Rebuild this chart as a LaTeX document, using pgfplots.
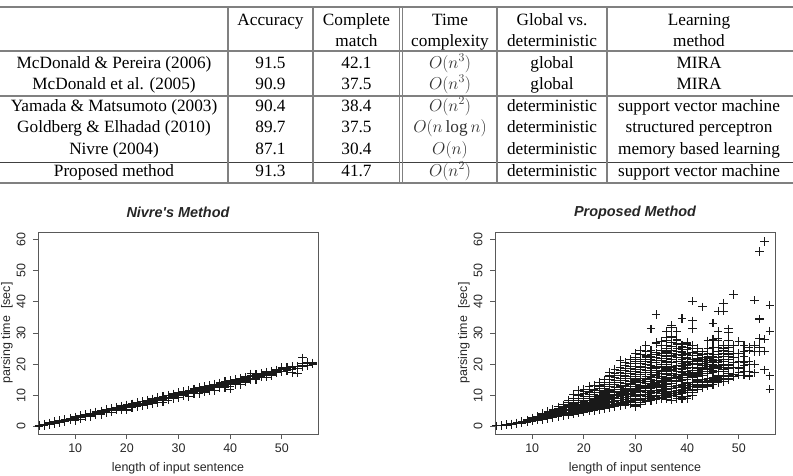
\documentclass[border=0pt]{standalone}
\usepackage{pgfplots}
\pgfplotsset{compat=1.18}
\usepackage{fontspec}
\setmainfont{Liberation Serif}
\setsansfont{Liberation Sans}
\definecolor{rulegray}{gray}{0.5}
\definecolor{rtext}{gray}{0.15}
\newcommand\tf{\fontsize{17.3}{21}\selectfont}
\newcommand\rf{\sffamily\fontsize{12.5}{14}\selectfont}
\pgfplotsset{rplot/.style={
  scale only axis, width=280bp, height=202bp,
  xmin=2.8, xmax=57, ymin=-2.4, ymax=62.4,
  xtick={10,20,30,40,50}, ytick={0,10,20,30,40,50,60},
  xtick pos=bottom, ytick pos=left,
  tick align=outside, major tick length=5bp,
  axis line style={draw=black!65, line width=0.9bp},
  every tick/.style={draw=black!65, line width=0.8bp},
  /pgf/number format/assume math mode=true,
  ticklabel style={font=\rf, text=rtext},
  yticklabel style={rotate=90, anchor=south},
  yticklabel shift=4bp, xticklabel shift=1bp,
  xlabel={length of input sentence},
  ylabel={parsing time\ \ [sec]},
  label style={font=\rf, text=rtext, inner sep=0pt},
  xlabel style={at={(axis description cs:0.5,-0.168)}, anchor=center},
  ylabel style={at={(axis description cs:-0.111,0.5)}, anchor=center},
  title style={at={(axis description cs:0.5,1.066)}, anchor=center, inner sep=0pt,
    font=\sffamily\bfseries\itshape\fontsize{14.5}{16}\selectfont, text=rtext},
  clip=false,
}}
\pgfplotsset{rmark/.style={only marks, mark=+, mark size=4.2bp, black!90, mark options={line width=1.05bp}}}
\begin{document}
\begin{tikzpicture}
\path[use as bounding box] (0,0) rectangle (793bp,-476bp);
% ---------- table ----------
\begin{scope}[line width=1.1bp]
\draw[rulegray] (0,-7bp) -- (793bp,-7bp);
\draw[rulegray] (0,-51bp) -- (793bp,-51bp);
\draw[rulegray] (0,-96bp) -- (793bp,-96bp);
\draw[black!75, line width=0.9bp] (0,-162bp) -- (793bp,-162bp);
\draw[rulegray] (0,-183bp) -- (793bp,-183bp);
\foreach \xx in {228,313,399.5,402.5,497,607} {\draw[rulegray] (\xx bp,-7bp) -- (\xx bp,-183bp);}
\end{scope}
\begin{scope}[every node/.style={anchor=base, font=\tf, inner sep=0pt}]
\node at (270.5bp,-25bp) {Accuracy};
\node at (356.5bp,-25bp) {Complete};
\node at (356.5bp,-46bp) {match};
\node at (450bp,-25bp) {Time};
\node at (450bp,-46bp) {complexity};
\node at (552bp,-25bp) {Global vs.};
\node at (552bp,-46bp) {deterministic};
\node at (699bp,-25bp) {Learning};
\node at (699bp,-46bp) {method};
% rows
\node at (114bp,-68bp) {McDonald \& Pereira (2006)};
\node at (270.5bp,-68bp) {91.5};
\node at (356.5bp,-68bp) {42.1};
\node[text=black!80] at (450bp,-68bp) {$O(n^3)$};
\node at (552bp,-68bp) {global};
\node at (699bp,-68bp) {MIRA};
\node at (114bp,-89bp) {McDonald et al. (2005)};
\node at (270.5bp,-89bp) {90.9};
\node at (356.5bp,-89bp) {37.5};
\node[text=black!80] at (450bp,-89bp) {$O(n^3)$};
\node at (552bp,-89bp) {global};
\node at (699bp,-89bp) {MIRA};
\node at (114bp,-111bp) {Yamada \& Matsumoto (2003)};
\node at (270.5bp,-111bp) {90.4};
\node at (356.5bp,-111bp) {38.4};
\node[text=black!80] at (450bp,-111bp) {$O(n^2)$};
\node at (552bp,-111bp) {deterministic};
\node at (699bp,-111bp) {support vector machine};
\node at (114bp,-132bp) {Goldberg \& Elhadad (2010)};
\node at (270.5bp,-132bp) {89.7};
\node at (356.5bp,-132bp) {37.5};
\node[text=black!80] at (450bp,-132bp) {$O(n\log n)$};
\node at (552bp,-132bp) {deterministic};
\node at (699bp,-132bp) {structured perceptron};
\node at (114bp,-154bp) {Nivre (2004)};
\node at (270.5bp,-154bp) {87.1};
\node at (356.5bp,-154bp) {30.4};
\node[text=black!80] at (450bp,-154bp) {$O(n)$};
\node at (552bp,-154bp) {deterministic};
\node at (699bp,-154bp) {memory based learning};
\node at (114bp,-176bp) {Proposed method};
\node at (270.5bp,-176bp) {91.3};
\node at (356.5bp,-176bp) {41.7};
\node[text=black!80] at (450bp,-176bp) {$O(n^2)$};
\node at (552bp,-176bp) {deterministic};
\node at (699bp,-176bp) {support vector machine};
\end{scope}
% ---------- left plot ----------
\begin{axis}[rplot, at={(38bp,-434bp)}, anchor=south west, title={Nivre\textquotesingle s Method}]
\addplot[rmark] coordinates {
(3,0.2)(3,0.3)(4,0.5)(4,0.6)(4,0.4)(5,0.9)(5,0.7)(6,1.2)(6,1.0)(6,1.3)(7,1.6)(7,1.4)(8,2.0)(8,1.8)(8,2.1)(9,2.4)(9,2.2)(9,2.5)(10,2.8)(10,2.6)(10,2.3)(10,2.9)(11,3.2)(11,3.0)(11,3.3)(12,3.6)(12,3.3)(12,3.7)(12,3.1)(13,4.0)(13,3.8)(13,4.1)(13,3.5)(14,4.4)(14,4.1)(14,4.5)(14,3.9)(15,4.8)(15,4.5)(15,4.9)(15,4.2)(16,5.1)(16,4.9)(16,5.3)(16,4.5)(17,5.5)(17,5.3)(17,5.7)(17,5.0)(18,5.9)(18,5.6)(18,6.1)(18,5.3)(19,6.3)(19,6.0)(19,6.5)(19,5.7)(20,6.7)(20,6.4)(20,6.9)(20,6.1)(20,5.3)(21,7.1)(21,6.8)(21,7.3)(21,6.4)(22,7.5)(22,7.2)(22,7.7)(22,6.8)(22,6.3)(23,7.9)(23,7.5)(23,8.1)(23,7.2)(24,8.2)(24,7.9)(24,8.5)(24,7.5)(24,7.0)(25,8.6)(25,8.3)(25,8.9)(25,7.9)(25,7.3)(26,9.0)(26,8.7)(26,9.3)(26,8.3)(26,7.6)(27,9.4)(27,9.1)(27,9.7)(27,8.7)(27,7.8)(28,9.8)(28,9.4)(28,10.1)(28,9.0)(28,8.5)(29,10.2)(29,9.8)(29,10.5)(29,9.4)(30,10.5)(30,10.2)(30,10.9)(30,9.8)(30,9.2)(31,10.9)(31,10.6)(31,11.3)(31,10.2)(31,9.9)(32,11.3)(32,11.0)(32,11.7)(32,10.5)(32,9.6)(33,11.7)(33,11.4)(33,12.1)(33,10.9)(34,12.1)(34,11.8)(34,12.5)(34,11.3)(34,10.5)(35,12.5)(35,12.1)(35,12.9)(35,11.6)(35,11.0)(36,12.8)(36,12.5)(36,13.2)(36,12.0)(37,13.2)(37,12.9)(37,13.6)(37,12.4)(37,11.6)(38,13.6)(38,13.3)(38,14.0)(38,12.8)(39,14.0)(39,13.6)(39,14.4)(39,13.1)(39,12.5)(40,14.4)(40,14.0)(40,14.8)(40,13.5)(40,12.0)(41,14.8)(41,14.4)(41,15.2)(41,13.9)(42,15.1)(42,14.8)(42,15.5)(42,14.2)(42,13.5)(43,15.5)(43,15.1)(43,15.9)(43,14.6)(44,15.9)(44,15.5)(44,16.3)(44,15.0)(44,16.9)(45,16.3)(45,15.9)(45,16.7)(45,15.3)(46,16.7)(46,16.2)(46,17.0)(46,15.8)(47,17.0)(47,16.6)(47,17.5)(48,17.4)(48,17.0)(48,16.3)(48,17.8)(49,17.8)(49,17.3)(49,18.2)(50,18.2)(50,17.7)(50,18.6)(50,19.0)(51,18.5)(51,18.1)(51,19.0)(52,18.9)(52,17.2)(52,19.3)(53,19.3)(53,17.1)(53,18.5)(54,19.7)(54,22.0)(54,20.2)(55,20.1)(55,20.5)(56,20.4)(56,20.0)
};
\addplot[rmark] coordinates {
(3,0.1)(3,0.45)(4,0.3)(4,0.8)(5,0.5)(5,1.2)(6,0.9)(6,1.6)(7,1.2)(7,1.9)(8,1.6)(8,2.3)(9,2.0)(9,2.7)(10,2.4)(10,3.1)(10,1.9)(11,2.8)(11,3.5)(11,2.4)(12,3.2)(12,3.9)(13,3.5)(13,4.3)(13,3.1)(14,3.9)(14,4.7)(15,4.3)(15,5.0)(15,3.8)(16,4.7)(16,5.4)(17,5.0)(17,5.8)(17,4.6)(18,5.4)(18,6.2)(19,5.8)(19,6.6)(19,5.3)(20,6.2)(20,7.0)(21,6.6)(21,7.3)(21,6.0)(22,6.9)(22,7.7)(23,7.3)(23,8.1)(23,6.8)(24,7.7)(24,8.5)(25,8.1)(25,8.8)(25,7.6)(26,8.5)(26,9.2)(27,8.8)(27,9.6)(27,8.3)(28,9.2)(28,10.0)(29,9.6)(29,10.4)(29,9.0)(30,10.0)(30,10.8)(31,10.4)(31,11.1)(31,9.8)(32,10.7)(32,11.5)(33,11.1)(33,11.9)(33,10.5)(34,11.5)(34,12.3)(35,11.9)(35,12.6)(35,11.3)(36,12.3)(36,13.0)(36,11.5)(37,12.6)(37,13.4)(38,13.0)(38,13.8)(38,12.4)(39,13.4)(39,14.2)(40,13.8)(40,14.6)(40,12.8)(41,14.2)(41,14.9)(41,13.4)(42,14.5)(42,15.3)(43,14.9)(43,15.7)(43,14.2)(44,15.3)(44,16.1)(45,15.7)(45,16.5)(45,15.0)(46,16.0)(46,16.8)(47,16.4)(47,17.2)(47,15.8)(48,16.8)(48,17.6)(49,17.2)(49,18.0)(50,17.6)(50,18.4)(51,18.0)(51,18.7)(52,18.3)(53,18.7)(54,19.2)(55,19.6)(56,20.2)
};
\end{axis}
% ---------- right plot ----------
\begin{axis}[rplot, at={(495bp,-434bp)}, anchor=south west, title={Proposed Method}]
\addplot[rmark] coordinates {
(3,0.2)(4,0.3)(4,0.4)(5,0.5)(5,0.6)(5,0.4)(6,0.7)(6,0.9)(6,0.6)(7,0.9)(7,1.2)(7,1.0)
(8,1.2)(8,1.5)(8,1.1)(8,1.7)(9,1.4)(9,1.8)(9,1.6)(9,2.1)
(10,1.7)(10,2.1)(10,2.5)(10,1.9)(10,2.8)(11,2.0)(11,2.5)(11,2.9)(11,3.3)(11,2.2)
(12,2.3)(12,2.8)(12,3.4)(12,3.9)(12,2.6)(12,4.3)(13,2.6)(13,3.2)(13,3.8)(13,4.4)(13,3.0)(13,4.9)
(14,2.9)(14,3.6)(14,4.3)(14,5.0)(14,3.3)(14,5.6)(14,4.0)(15,3.1)(15,3.9)(15,4.7)(15,5.5)(15,3.6)(15,6.3)(15,4.4)
(16,3.4)(16,4.3)(16,5.2)(16,6.1)(16,3.9)(16,7.0)(16,4.8)(16,5.7)(17,3.7)(17,4.6)(17,5.6)(17,6.7)(17,4.2)(17,7.6)(17,5.2)(17,8.3)
(18,4.0)(18,5.0)(18,6.1)(18,7.3)(18,4.5)(18,8.4)(18,5.6)(18,9.0)(18,10.3)
(19,4.3)(19,5.4)(19,6.6)(19,7.8)(19,4.8)(19,9.1)(19,6.0)(19,9.8)(19,11.5)
(20,4.6)(20,5.8)(20,7.0)(20,8.4)(20,5.1)(20,9.7)(20,6.5)(20,10.6)(20,12.0)(20,11.2)
(21,4.9)(21,6.1)(21,7.5)(21,9.0)(21,5.4)(21,10.3)(21,6.9)(21,11.3)(21,12.8)(21,8.2)
(22,5.2)(22,6.5)(22,8.0)(22,9.5)(22,5.7)(22,11.0)(22,7.3)(22,12.0)(22,13.3)(22,8.7)
(23,5.5)(23,6.9)(23,8.4)(23,10.1)(23,6.0)(23,11.6)(23,7.8)(23,12.7)(23,14.2)(23,9.3)(23,13.0)
(24,5.8)(24,7.3)(24,8.9)(24,10.7)(24,6.3)(24,12.2)(24,8.2)(24,13.4)(24,15.0)(24,9.8)(24,11.3)
(25,6.0)(25,7.6)(25,9.3)(25,11.2)(25,6.7)(25,12.9)(25,8.6)(25,14.1)(25,16.2)(25,10.3)(25,11.9)(25,17.3)
(26,6.3)(26,8.0)(26,9.8)(26,11.8)(26,7.0)(26,13.5)(26,9.1)(26,14.8)(26,16.5)(26,10.8)(26,12.5)(26,18.4)
(27,6.6)(27,8.4)(27,10.3)(27,12.4)(27,7.3)(27,14.1)(27,9.5)(27,15.5)(27,17.2)(27,11.3)(27,13.1)(27,19.0)(27,21.3)
(28,6.9)(28,8.8)(28,10.7)(28,13.0)(28,7.6)(28,14.8)(28,9.9)(28,16.2)(28,17.9)(28,11.8)(28,13.7)(28,19.6)
(29,7.2)(29,9.1)(29,11.2)(29,13.5)(29,8.0)(29,15.4)(29,10.4)(29,16.9)(29,18.6)(29,12.3)(29,14.3)(29,20.2)(29,21.5)
(30,6.3)(30,9.5)(30,11.7)(30,14.1)(30,8.3)(30,16.0)(30,10.8)(30,17.6)(30,19.4)(30,12.8)(30,14.9)(30,21.0)(30,23.5)(30,6.8)
(31,7.8)(31,9.9)(31,12.1)(31,14.7)(31,8.6)(31,16.6)(31,11.3)(31,18.3)(31,20.1)(31,13.3)(31,15.5)(31,21.6)(31,24.5)
(32,8.1)(32,10.3)(32,12.6)(32,15.2)(32,8.9)(32,17.3)(32,11.7)(32,19.0)(32,20.8)(32,13.8)(32,16.1)(32,22.3)(32,26.0)(32,22.8)
(33,8.4)(33,10.6)(33,13.1)(33,15.8)(33,9.2)(33,17.9)(33,12.1)(33,19.7)(33,21.5)(33,14.3)(33,16.7)(33,23.0)(33,31.3)(33,22.0)
(34,8.7)(34,11.0)(34,13.5)(34,16.4)(34,9.6)(34,18.5)(34,12.6)(34,20.4)(34,22.2)(34,14.8)(34,17.3)(34,23.6)(34,27.0)(34,35.9)(34,19.0)(34,18.0)
(35,9.0)(35,11.4)(35,14.0)(35,16.9)(35,9.9)(35,19.1)(35,13.0)(35,21.1)(35,22.9)(35,15.3)(35,17.9)(35,24.3)(35,27.3)(35,12.5)(35,18.8)
(36,9.3)(36,11.8)(36,14.5)(36,17.5)(36,10.2)(36,19.8)(36,13.4)(36,21.8)(36,23.6)(36,15.8)(36,18.5)(36,25.0)(36,27.6)(36,30.6)(36,26.0)
(37,8.5)(37,12.1)(37,14.9)(37,18.1)(37,10.5)(37,20.4)(37,13.9)(37,22.5)(37,24.3)(37,16.3)(37,19.1)(37,25.6)(37,28.5)(37,32.4)(37,31.7)(37,22.8)
(38,9.6)(38,12.5)(38,15.4)(38,18.6)(38,10.8)(38,21.0)(38,14.3)(38,23.2)(38,25.0)(38,16.8)(38,19.7)(38,26.3)(38,28.0)(38,30.5)(38,27.5)(38,11.0)
(39,9.2)(39,12.9)(39,15.8)(39,19.2)(39,11.1)(39,21.6)(39,14.7)(39,23.9)(39,25.7)(39,17.3)(39,20.3)(39,34.7)(39,26.2)(39,21.0)
(40,9.0)(40,13.3)(40,16.3)(40,19.8)(40,11.5)(40,22.2)(40,15.2)(40,24.6)(40,26.3)(40,17.8)(40,20.9)(40,14.0)(40,18.5)(40,12.5)(40,27.0)(40,23.0)
(41,11.0)(41,13.6)(41,16.8)(41,20.3)(41,12.0)(41,22.8)(41,15.6)(41,25.0)(41,40.2)(41,33.9)(41,31.5)(41,18.0)(41,21.5)(41,10.0)(41,17.0)
(42,12.0)(42,14.0)(42,17.2)(42,20.9)(42,13.0)(42,23.4)(42,16.0)(42,24.2)(42,19.0)(42,21.8)(42,15.0)
(43,12.5)(43,14.4)(43,17.7)(43,21.5)(43,13.5)(43,22.0)(43,16.5)(43,38.4)(43,19.5)(43,24.0)(43,18.5)
(44,13.0)(44,14.8)(44,18.2)(44,22.0)(44,14.0)(44,20.5)(44,16.9)(44,25.0)(44,27.5)(44,19.8)(44,21.2)
(45,13.5)(45,15.2)(45,18.6)(45,22.6)(45,14.5)(45,21.0)(45,17.4)(45,28.0)(45,33.2)(45,19.5)(45,20.0)(45,22.0)
(46,14.0)(46,15.6)(46,19.1)(46,22.0)(46,15.2)(46,28.1)(46,17.8)(46,30.5)(46,37.0)(46,20.5)(46,27.5)(46,24.0)
(47,14.5)(47,16.0)(47,19.5)(47,22.5)(47,15.5)(47,24.5)(47,18.2)(47,39.6)(47,37.0)(47,21.0)(47,25.0)(47,20.0)
(48,15.0)(48,16.4)(48,20.0)(48,23.0)(48,15.5)(48,31.3)(48,30.2)(48,27.5)(48,18.5)(48,21.5)(48,24.0)
(49,16.0)(49,16.8)(49,20.5)(49,23.5)(49,42.3)(49,22.0)(49,19.0)(49,26.0)
(50,16.5)(50,17.2)(50,19.0)(50,21.0)(50,27.3)(50,23.5)(50,18.5)
(51,16.5)(51,17.6)(51,19.5)(51,24.0)(51,20.5)(51,26.0)(51,22.5)
(52,16.2)(52,17.5)(52,20.0)(52,24.5)(52,25.5)(52,21.0)
(53,17.2)(53,20.0)(53,24.0)(53,40.5)(53,26.0)
(54,24.0)(54,25.5)(54,28.2)(54,34.5)(54,56.2)
(55,18.2)(55,24.2)(55,28.0)(55,59.4)
(56,12.0)(56,16.3)(56,30.6)(56,38.9)
};
\addplot[rmark] coordinates {
(10,2.3)(10,2.0)(11,2.7)(11,2.4)(11,3.0)(12,3.1)(12,2.5)(12,3.6)(13,3.5)(13,2.8)(13,4.1)(13,3.3)
(14,3.9)(14,3.1)(14,4.6)(14,3.5)(14,4.8)(15,4.2)(15,3.4)(15,5.1)(15,3.8)(15,5.9)
(16,4.6)(16,3.7)(16,5.5)(16,4.1)(16,6.5)(16,5.0)(17,5.0)(17,4.0)(17,6.1)(17,4.4)(17,7.1)(17,5.4)(17,6.4)
(18,5.3)(18,4.3)(18,6.7)(18,4.8)(18,7.8)(18,5.8)(18,6.4)(19,5.7)(19,4.6)(19,7.2)(19,5.1)(19,8.5)(19,6.3)(19,7.0)(19,10.4)
(20,6.1)(20,4.9)(20,7.7)(20,5.5)(20,9.0)(20,6.8)(20,7.4)(20,8.0)
(21,6.5)(21,5.2)(21,8.2)(21,5.8)(21,9.6)(21,7.2)(21,7.8)(21,10.8)(21,12.0)
(22,6.9)(22,5.5)(22,8.7)(22,6.1)(22,10.2)(22,7.6)(22,8.3)(22,11.5)(22,9.1)
(23,7.3)(23,5.8)(23,9.0)(23,6.5)(23,10.8)(23,8.0)(23,8.8)(23,12.2)(23,9.7)(23,11.0)
(24,7.7)(24,6.1)(24,9.5)(24,6.8)(24,11.5)(24,8.5)(24,9.2)(24,12.8)(24,10.2)(24,14.2)
(25,8.1)(25,6.4)(25,10.0)(25,7.1)(25,12.0)(25,9.0)(25,9.7)(25,13.4)(25,10.8)(25,15.0)(25,11.5)
(26,8.5)(26,6.7)(26,10.4)(26,7.4)(26,12.6)(26,9.4)(26,10.1)(26,14.0)(26,11.3)(26,15.7)(26,12.0)(26,17.0)
(27,8.9)(27,7.0)(27,10.9)(27,7.8)(27,13.2)(27,9.8)(27,10.6)(27,14.7)(27,11.8)(27,16.3)(27,12.8)(27,18.0)
(28,9.3)(28,7.3)(28,11.4)(28,8.1)(28,13.8)(28,10.3)(28,11.0)(28,15.4)(28,12.3)(28,17.0)(28,12.8)(28,18.5)(28,20.5)
(29,9.6)(29,7.6)(29,11.9)(29,8.5)(29,14.4)(29,10.7)(29,11.6)(29,16.0)(29,12.9)(29,17.7)(29,13.8)(29,19.3)
(30,10.0)(30,7.8)(30,12.3)(30,8.8)(30,15.0)(30,11.2)(30,12.0)(30,16.7)(30,13.5)(30,18.4)(30,14.3)(30,20.1)(30,22.2)
(31,10.4)(31,8.2)(31,12.8)(31,9.1)(31,15.5)(31,11.6)(31,12.5)(31,17.3)(31,14.0)(31,19.1)(31,14.9)(31,20.8)(31,23.0)(31,7.2)
(32,10.8)(32,8.5)(32,13.2)(32,9.5)(32,16.1)(32,12.1)(32,13.0)(32,18.0)(32,14.5)(32,19.8)(32,15.4)(32,21.5)(32,24.0)
(33,11.2)(33,8.8)(33,13.7)(33,9.8)(33,16.7)(33,12.5)(33,13.5)(33,18.7)(33,15.0)(33,20.5)(33,16.0)(33,22.5)(33,24.5)
(34,11.5)(34,9.1)(34,14.2)(34,10.1)(34,17.2)(34,13.0)(34,13.9)(34,19.4)(34,15.6)(34,21.2)(34,16.6)(34,23.0)(34,26.5)
(35,11.9)(35,9.4)(35,14.6)(35,10.5)(35,17.8)(35,13.4)(35,14.4)(35,20.0)(35,16.1)(35,21.9)(35,17.1)(35,23.5)(35,26.0)
(36,12.3)(36,9.7)(36,15.1)(36,10.8)(36,18.4)(36,13.9)(36,14.9)(36,20.7)(36,16.6)(36,22.6)(36,17.6)(36,24.2)(36,28.5)(36,8.8)
(37,12.7)(37,10.0)(37,15.6)(37,11.1)(37,19.0)(37,14.3)(37,15.4)(37,21.4)(37,17.1)(37,23.3)(37,18.2)(37,27.0)(37,29.0)
(38,13.1)(38,10.3)(38,16.0)(38,11.5)(38,19.5)(38,14.8)(38,15.8)(38,22.0)(38,17.6)(38,24.0)(38,18.7)(38,26.5)(38,9.0)
(39,13.5)(39,10.6)(39,16.5)(39,11.8)(39,20.1)(39,15.2)(39,16.3)(39,22.7)(39,18.2)(39,24.7)(39,19.2)(39,25.5)(39,8.8)
(40,13.9)(40,10.9)(40,17.0)(40,12.2)(40,20.7)(40,15.6)(40,16.8)(40,23.4)(40,18.8)(40,25.5)(40,19.6)(40,21.8)(40,9.5)(40,26.8)
(41,14.2)(41,11.5)(41,17.4)(41,12.8)(41,21.0)(41,16.2)(41,19.0)(41,23.8)(41,20.0)(41,26.0)
(42,14.6)(42,12.5)(42,17.9)(42,13.5)(42,21.3)(42,16.6)(42,18.5)(42,22.7)(42,20.0)(42,25.0)
(43,15.0)(43,13.0)(43,18.2)(43,14.0)(43,21.0)(43,17.0)(43,19.0)(43,23.0)(43,20.2)(43,14.5)
(44,15.4)(44,13.5)(44,18.7)(44,14.5)(44,21.7)(44,17.5)(44,19.3)(44,23.5)(44,22.5)
(45,15.8)(45,14.0)(45,19.0)(45,15.0)(45,21.5)(45,18.0)(45,23.0)(45,25.5)
(46,16.2)(46,14.6)(46,19.6)(46,15.5)(46,21.2)(46,18.5)(46,23.0)(46,25.5)
(47,16.5)(47,15.0)(47,19.0)(47,23.5)(47,17.5)(47,21.5)(47,26.0)
(48,17.0)(48,15.3)(48,19.5)(48,22.5)(48,25.5)(48,16.0)
};
\end{axis}
\end{tikzpicture}
\end{document}
